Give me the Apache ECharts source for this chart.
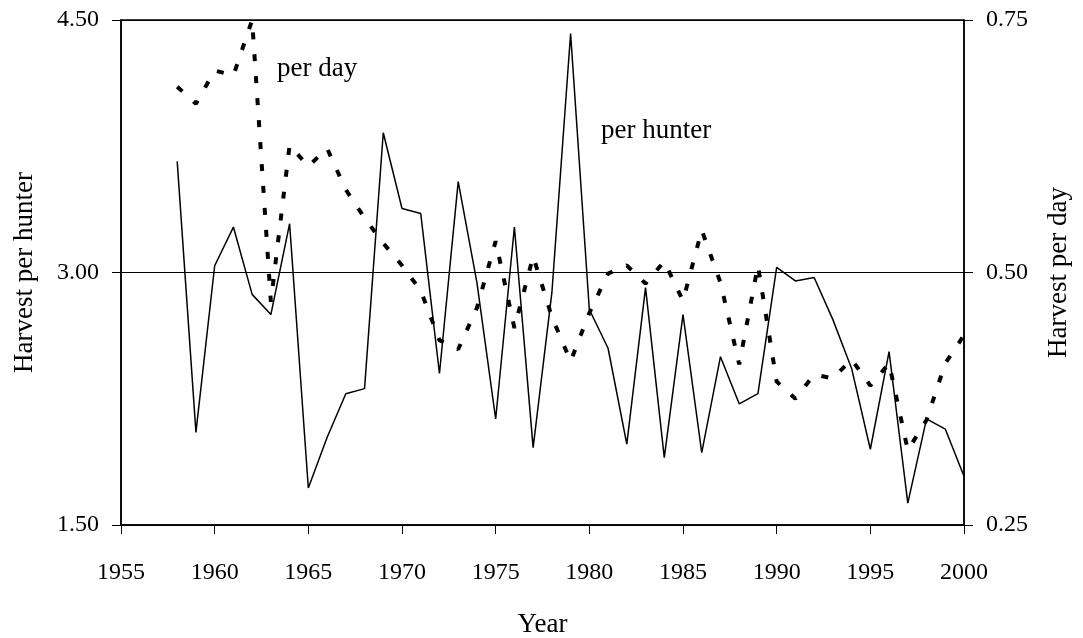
<!DOCTYPE html>
<html>
<head>
<meta charset="utf-8">
<script src="https://cdn.jsdelivr.net/npm/echarts@6/dist/echarts.min.js"></script>
<style>
html,body{margin:0;padding:0;background:#fff;}
#chart{width:1083px;height:638px;}
</style>
</head>
<body>
<div id="chart"></div>
<script>
const years = [1958,1959,1960,1961,1962,1963,1964,1965,1966,1967,1968,1969,1970,1971,1972,1973,1974,1975,1976,1977,1978,1979,1980,1981,1982,1983,1984,1985,1986,1987,1988,1989,1990,1991,1992,1993,1994,1995,1996,1997,1998,1999,2000];
const perHunter = [3.66,2.05,3.04,3.27,2.87,2.75,3.29,1.72,2.02,2.28,2.31,3.83,3.38,3.35,2.40,3.54,2.94,2.13,3.27,1.96,2.88,4.42,2.78,2.55,1.98,2.91,1.90,2.75,1.93,2.50,2.22,2.28,3.03,2.95,2.97,2.72,2.43,1.95,2.53,1.63,2.13,2.07,1.79];
const perDay = [0.684,0.667,0.700,0.695,0.750,0.471,0.626,0.605,0.623,0.582,0.554,0.529,0.507,0.482,0.433,0.424,0.465,0.531,0.445,0.516,0.456,0.412,0.460,0.499,0.507,0.489,0.511,0.472,0.542,0.490,0.409,0.507,0.392,0.375,0.399,0.395,0.414,0.388,0.410,0.324,0.354,0.410,0.438];
const leftTicks = [1.5, 4.5, 1.5];   // min, max, interval
const rightTicks = [0.25, 0.75, 0.25];
const xTicks = [1955, 2000, 5];

const font = 'Liberation Serif, Times New Roman, serif';
const chart = echarts.init(document.getElementById('chart'), null, {renderer:'canvas'});
chart.setOption({
  animation: false,
  backgroundColor: '#fff',
  grid: {left:121, right:119, top:20, bottom:113, outerBoundsMode:'none', containLabel:false, show:true, borderColor:'#000', borderWidth:1.5, backgroundColor:'transparent'},
  xAxis: {
    type:'value', min:xTicks[0], max:xTicks[1], interval:xTicks[2],
    name:'Year', nameLocation:'middle', nameGap:86,
    nameTextStyle:{fontFamily:font, fontSize:27, color:'#000'},
    axisLine:{show:true, lineStyle:{color:'#000', width:1.5}},
    axisTick:{show:true, inside:false, length:9, lineStyle:{color:'#000', width:1}},
    axisLabel:{fontFamily:font, fontSize:24, color:'#000', margin:36, formatter: v => String(v)},
    splitLine:{show:false}
  },
  yAxis: [{
    type:'value', position:'left', min:leftTicks[0], max:leftTicks[1], interval:leftTicks[2],
    name:'Harvest per hunter', nameLocation:'middle', nameGap:83, nameRotate:90,
    nameTextStyle:{fontFamily:font, fontSize:27, color:'#000'},
    axisLine:{show:true, lineStyle:{color:'#000', width:1.5}},
    axisTick:{show:true, length:9, lineStyle:{color:'#000', width:1}},
    axisLabel:{fontFamily:font, fontSize:24, color:'#000', margin:22, formatter: v => v.toFixed(2)},
    splitLine:{show:true, lineStyle:{color:'#000', width:1}}
  },{
    type:'value', position:'right', min:rightTicks[0], max:rightTicks[1], interval:rightTicks[2],
    name:'Harvest per day', nameLocation:'middle', nameGap:81, nameRotate:90,
    nameTextStyle:{fontFamily:font, fontSize:27, color:'#000'},
    axisLine:{show:true, lineStyle:{color:'#000', width:1.5}},
    axisTick:{show:true, length:9, lineStyle:{color:'#000', width:1}},
    axisLabel:{fontFamily:font, fontSize:24, color:'#000', margin:22, formatter: v => v.toFixed(2)},
    splitLine:{show:false}
  }],
  graphic: [
    {type:'text', x:277, y:69, style:{text:'per day', font:'27px ' + font, fill:'#000', verticalAlign:'middle'}},
    {type:'text', x:601, y:131, style:{text:'per hunter', font:'27px ' + font, fill:'#000', verticalAlign:'middle'}}
  ],
  series: [{
    type:'line', yAxisIndex:0, data: years.map((y,i)=>[y, perHunter[i]]),
    symbol:'none', lineStyle:{color:'#000', width:1.5}, z:3
  },{
    type:'line', yAxisIndex:1, data: years.map((y,i)=>[y, perDay[i]]),
    symbol:'none', lineStyle:{color:'#000', width:4, type:[7,15], cap:'butt'}, z:2
  }]
});
</script>
</body>
</html>
